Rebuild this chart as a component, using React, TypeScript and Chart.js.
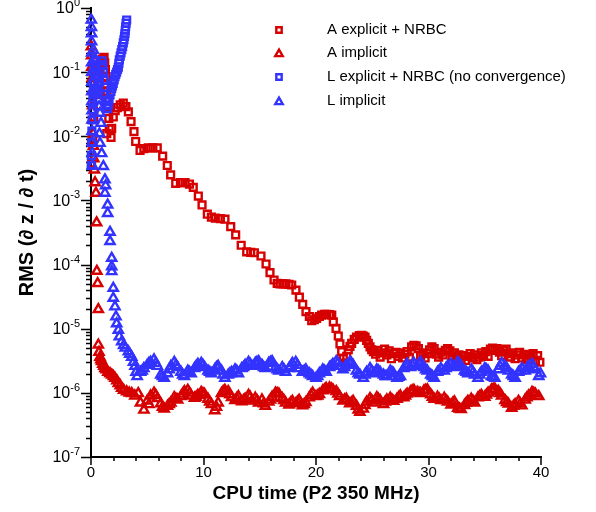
import React, { useEffect, useRef } from "react";
import { Chart, registerables } from "chart.js";

Chart.register(...registerables);

// ---------- data (x = CPU time, y = RMS) ----------
const seriesNames = [
  "A explicit + NRBC",
  "A implicit",
  "L explicit + NRBC (no convergence)",
  "L implicit",
];

const aExplicit: [number, number][] = [
  [0.05, 0.0038], [0.15, 0.009], [0.25, 0.02], [0.4, 0.045], [0.55, 0.08], [0.7, 0.11],
  [0.85, 0.14], [1.0, 0.16], [1.16, 0.17], [1.22, 0.14], [1.28, 0.11], [1.33, 0.085],
  [1.38, 0.065], [1.43, 0.05], [1.48, 0.038], [1.53, 0.028], [1.58, 0.019], [1.4, 0.011],
  [1.62, 0.013], [1.78, 0.0096], [1.84, 0.0133], [1.98, 0.02], [2.15, 0.025], [2.34, 0.028],
  [2.6, 0.031], [2.87, 0.033], [3.1, 0.029], [3.32, 0.024], [3.56, 0.0169], [3.82, 0.0118],
  [3.97, 0.0083], [4.36, 0.006], [4.7, 0.0064], [5.09, 0.0066], [5.5, 0.0066], [5.89, 0.0066],
  [6.37, 0.0049], [6.78, 0.0035], [7.08, 0.0025], [7.53, 0.00185], [7.95, 0.0019], [8.36, 0.0019],
  [8.75, 0.0018], [9.09, 0.0016], [9.54, 0.00117], [9.87, 0.00085], [10.34, 0.00061], [10.7, 0.00055],
  [11.05, 0.00053], [11.5, 0.00052], [11.91, 0.00051], [12.42, 0.00039], [12.86, 0.00029], [13.35, 0.0002],
  [13.84, 0.000158], [14.2, 0.000155], [14.52, 0.000153], [15.11, 0.000136], [15.56, 0.000102], [15.91, 0.000075],
  [16.27, 0.0000575], [16.55, 0.000051], [16.8, 0.00005], [17.06, 0.00005], [17.33, 0.00005], [17.6, 0.000049],
  [17.84, 0.000048], [18.22, 0.00004], [18.52, 0.000031], [18.82, 0.000024], [19.11, 0.0000185], [19.41, 0.0000155],
  [19.62, 0.0000133], [19.85, 0.0000138], [20.06, 0.0000145], [20.3, 0.0000155], [20.5, 0.0000163], [20.75, 0.0000167],
  [20.95, 0.0000168], [21.2, 0.0000166], [21.4, 0.0000163], [21.54, 0.0000128], [21.78, 0.0000101], [21.98, 0.0000077],
  [22.13, 0.0000058], [22.28, 0.0000044], [22.43, 0.00000345], [22.58, 0.0000029], [22.73, 0.0000037], [22.87, 0.0000047],
  [23.02, 0.0000053], [23.17, 0.0000059], [23.4, 0.0000068], [23.6, 0.0000074], [23.85, 0.0000078], [24.06, 0.0000079],
  [24.2, 0.0000077], [24.36, 0.0000074], [24.5, 0.0000066], [24.65, 0.0000059], [24.8, 0.0000052], [24.95, 0.0000047],
  [25.1, 4.4e-6], [25.3, 4.0e-6], [25.5, 4.6e-6], [25.7, 3.6e-6], [25.9, 4.2e-6], [26.1, 4.8e-6],
  [26.3, 3.9e-6], [26.5, 4.5e-6], [26.7, 3.4e-6], [26.9, 4.1e-6], [27.1, 4.3e-6], [27.3, 3.7e-6],
  [27.5, 4.2e-6], [27.7, 3.5e-6], [27.9, 4.0e-6], [28.1, 4.4e-6], [28.3, 3.6e-6], [28.5, 5.2e-6],
  [28.7, 5.5e-6], [28.9, 5.4e-6], [29.1, 4.9e-6], [29.3, 3.8e-6], [29.5, 4.2e-6], [29.7, 3.5e-6],
  [29.9, 4.1e-6], [30.1, 4.7e-6], [30.3, 5.2e-6], [30.5, 4.9e-6], [30.7, 4.0e-6], [30.9, 3.6e-6],
  [31.1, 4.3e-6], [31.3, 3.9e-6], [31.5, 4.6e-6], [31.7, 4.9e-6], [31.9, 4.5e-6], [32.1, 3.7e-6],
  [32.3, 4.2e-6], [32.5, 3.4e-6], [32.7, 3.9e-6], [32.9, 3.3e-6], [33.1, 3.8e-6], [33.3, 3.2e-6],
  [33.5, 3.7e-6], [33.7, 4.1e-6], [33.9, 3.5e-6], [34.1, 3.9e-6], [34.3, 3.3e-6], [34.5, 3.6e-6],
  [34.7, 4.2e-6], [34.9, 3.8e-6], [35.1, 4.4e-6], [35.3, 3.7e-6], [35.5, 4.8e-6], [35.7, 5.0e-6],
  [35.9, 4.6e-6], [36.1, 4.9e-6], [36.3, 4.3e-6], [36.5, 3.8e-6], [36.7, 4.5e-6], [36.9, 4.8e-6],
  [37.1, 4.1e-6], [37.3, 3.6e-6], [37.5, 4.2e-6], [37.7, 3.4e-6], [37.9, 3.9e-6], [38.1, 4.3e-6],
  [38.3, 3.5e-6], [38.5, 4.0e-6], [38.7, 3.3e-6], [38.9, 3.9e-6], [39.1, 3.6e-6], [39.3, 4.1e-6],
  [39.5, 3.2e-6], [39.7, 3.8e-6], [39.9, 3.0e-6],
];

const aImplicit: [number, number][] = [
  [0.03, 0.25], [0.05, 0.18], [0.07, 0.12], [0.1, 0.08], [0.12, 0.05], [0.15, 0.03],
  [0.18, 0.018], [0.2, 0.011], [0.22, 0.007], [0.25, 0.0045], [0.3, 0.003], [0.36, 0.0019],
  [0.44, 0.0013], [0.5, 0.00045], [0.52, 0.000079], [0.59, 0.000051], [0.65, 0.00002], [0.65, 0.0000056],
  [0.71, 0.0000043], [0.8, 0.0000036], [0.88, 0.0000033], [0.95, 0.0000031], [1.05, 0.0000028], [1.15, 0.0000026],
  [1.24, 0.0000024], [1.35, 0.0000023], [1.5, 0.0000021], [1.69, 0.000002], [1.85, 0.0000019], [2.0, 0.0000018],
  [2.13, 0.0000017], [2.3, 0.00000155], [2.43, 0.0000014], [2.6, 0.0000013], [2.73, 0.00000118], [2.9, 0.0000011],
  [3.17, 0.00000104], [3.4, 0.000001], [3.62, 0.00000098], [3.9, 0.0000009], [4.2, 0.00000098], [4.4, 0.0000007],
  [4.7, 5.4e-7], [5.0, 7.5e-7], [5.3, 9.0e-7], [5.6, 1.0e-6], [5.9, 8.2e-7], [6.2, 6.8e-7],
  [6.5, 5.6e-7], [6.8, 6.2e-7], [7.1, 7.0e-7], [7.4, 8.5e-7], [7.7, 7.8e-7], [8.0, 8.8e-7],
  [8.3, 1.05e-6], [8.6, 1.1e-6], [8.9, 9.0e-7], [9.2, 8.3e-7], [9.5, 9.2e-7], [9.8, 1.02e-6],
  [10.1, 9.5e-7], [10.4, 8.0e-7], [10.7, 6.6e-7], [11.0, 5.3e-7], [11.3, 7.0e-7], [11.6, 9.8e-7],
  [11.9, 1.1e-6], [12.2, 1.05e-6], [12.5, 8.5e-7], [12.8, 7.6e-7], [13.1, 8.8e-7], [13.4, 7.3e-7],
  [13.7, 8.0e-7], [14.0, 9.2e-7], [14.3, 7.5e-7], [14.6, 8.3e-7], [14.9, 7.0e-7], [15.2, 7.8e-7],
  [15.5, 6.2e-7], [15.8, 7.2e-7], [16.1, 8.6e-7], [16.4, 1.0e-6], [16.7, 9.6e-7], [17.0, 8.2e-7],
  [17.3, 7.0e-7], [17.6, 6.5e-7], [17.9, 7.4e-7], [18.2, 6.8e-7], [18.5, 7.7e-7], [18.8, 6.3e-7],
  [19.1, 7.1e-7], [19.4, 8.4e-7], [19.7, 1.0e-6], [20.0, 8.8e-7], [20.3, 9.5e-7], [20.6, 1.08e-6],
  [20.9, 1.18e-6], [21.2, 1.2e-6], [21.5, 1.12e-6], [21.8, 1.05e-6], [22.1, 8.8e-7], [22.4, 7.5e-7],
  [22.7, 8.0e-7], [23.0, 6.8e-7], [23.3, 7.4e-7], [23.6, 6.2e-7], [23.9, 5.0e-7], [24.2, 5.6e-7],
  [24.5, 7.2e-7], [24.8, 8.2e-7], [25.1, 7.0e-7], [25.4, 8.5e-7], [25.7, 7.6e-7], [26.0, 6.6e-7],
  [26.3, 7.8e-7], [26.6, 8.3e-7], [26.9, 7.4e-7], [27.2, 8.0e-7], [27.5, 9.0e-7], [27.8, 8.4e-7],
  [28.1, 9.6e-7], [28.4, 1.04e-6], [28.7, 1.1e-6], [29.0, 1.02e-6], [29.3, 9.8e-7], [29.6, 1.08e-6],
  [29.9, 1.12e-6], [30.2, 9.4e-7], [30.5, 8.0e-7], [30.8, 8.6e-7], [31.1, 7.6e-7], [31.4, 8.3e-7],
  [31.7, 7.2e-7], [32.0, 6.5e-7], [32.3, 7.3e-7], [32.6, 5.8e-7], [32.9, 5.5e-7], [33.2, 6.4e-7],
  [33.5, 7.4e-7], [33.8, 8.0e-7], [34.1, 7.0e-7], [34.4, 8.4e-7], [34.7, 9.2e-7], [35.0, 8.6e-7],
  [35.3, 1.0e-6], [35.6, 1.12e-6], [35.9, 1.15e-6], [36.2, 1.06e-6], [36.5, 9.0e-7], [36.8, 7.6e-7],
  [37.1, 6.7e-7], [37.4, 5.8e-7], [37.7, 6.6e-7], [38.0, 7.4e-7], [38.3, 6.3e-7], [38.6, 7.8e-7],
  [38.9, 9.0e-7], [39.2, 1.02e-6], [39.5, 9.6e-7], [39.8, 8.8e-7],
  // second pass of samples interleaved through the noisy floor
  [5.15, 6.6e-7], [5.75, 9.2e-7], [6.35, 6.0e-7], [6.95, 6.6e-7], [7.55, 8.0e-7], [8.15, 9.6e-7],
  [8.75, 1.0e-6], [9.35, 8.6e-7], [9.95, 9.8e-7], [10.55, 7.2e-7], [11.15, 6.0e-7], [11.75, 1.05e-6],
  [12.35, 9.4e-7], [12.95, 8.2e-7], [13.55, 7.6e-7], [14.15, 8.6e-7], [14.75, 7.6e-7], [15.35, 6.8e-7],
  [15.95, 7.8e-7], [16.55, 9.8e-7], [17.15, 7.6e-7], [17.75, 7.0e-7], [18.35, 7.2e-7], [18.95, 6.6e-7],
  [19.55, 9.2e-7], [20.15, 9.0e-7], [20.75, 1.12e-6], [21.35, 1.16e-6], [21.95, 9.6e-7], [22.55, 7.8e-7],
  [23.15, 7.0e-7], [23.75, 5.4e-7], [24.35, 6.4e-7], [24.95, 7.6e-7], [25.55, 8.0e-7], [26.15, 7.2e-7],
  [26.75, 7.8e-7], [27.35, 8.5e-7], [27.95, 9.0e-7], [28.55, 1.08e-6], [29.15, 1.0e-6], [29.75, 1.1e-6],
  [30.35, 8.6e-7], [30.95, 8.0e-7], [31.55, 7.6e-7], [32.15, 6.9e-7], [32.75, 5.6e-7], [33.35, 6.9e-7],
  [33.95, 7.5e-7], [34.55, 8.8e-7], [35.15, 9.3e-7], [35.75, 1.14e-6], [36.35, 9.8e-7], [36.95, 7.1e-7],
  [37.55, 6.2e-7], [38.15, 6.8e-7], [38.75, 8.4e-7], [39.35, 9.9e-7],
];

const lExplicit: [number, number][] = [
  [0.02, 0.0035], [0.03, 0.005], [0.05, 0.008], [0.08, 0.012], [0.1, 0.018], [0.13, 0.026],
  [0.17, 0.04], [0.22, 0.055], [0.27, 0.07], [0.3, 0.1], [0.35, 0.13], [0.42, 0.15],
  [0.5, 0.12], [0.55, 0.09], [0.6, 0.065], [0.68, 0.05], [0.75, 0.07], [0.82, 0.1],
  [0.9, 0.13], [0.98, 0.15], [1.05, 0.13], [1.1, 0.1], [1.15, 0.075], [1.2, 0.058],
  [1.27, 0.045], [1.35, 0.035], [1.42, 0.03], [1.48, 0.027], [1.55, 0.031], [1.6, 0.037],
  [1.69, 0.044], [1.77, 0.05], [1.84, 0.056], [1.91, 0.061], [1.98, 0.067], [2.06, 0.076],
  [2.13, 0.085], [2.2, 0.092], [2.28, 0.1], [2.36, 0.11], [2.43, 0.12], [2.48, 0.137],
  [2.52, 0.155], [2.6, 0.178], [2.67, 0.2], [2.74, 0.225], [2.81, 0.25], [2.87, 0.285],
  [2.93, 0.32], [2.98, 0.36], [3.02, 0.4], [3.05, 0.45], [3.08, 0.51], [3.12, 0.58],
  [3.17, 0.65],
];

const lImplicit: [number, number][] = [
  [0.03, 0.65], [0.04, 0.5], [0.05, 0.4], [0.05, 0.3], [0.06, 0.2], [0.06, 0.14],
  [0.07, 0.1], [0.07, 0.07], [0.08, 0.05], [0.08, 0.035], [0.09, 0.025], [0.09, 0.018],
  [0.1, 0.012], [0.1, 0.008], [0.11, 0.0055], [0.12, 0.0035], [0.2, 0.22], [0.3, 0.155],
  [0.36, 0.12], [0.42, 0.085], [0.5, 0.059], [0.58, 0.045], [0.65, 0.037], [0.72, 0.029],
  [0.8, 0.023], [0.89, 0.016], [0.75, 0.011], [0.8, 0.0078], [0.95, 0.0054], [1.1, 0.0034],
  [1.24, 0.0021], [1.3, 0.0017], [1.24, 0.0013], [1.48, 0.00085], [1.48, 0.00063], [1.69, 0.00032],
  [1.69, 0.00023], [1.84, 0.000126], [1.84, 0.000093], [1.84, 0.000078], [1.98, 0.000043], [1.98, 0.00003],
  [2.13, 0.000022], [2.22, 0.0000154], [2.28, 0.000012], [2.43, 0.0000095], [2.52, 0.0000075], [2.73, 0.0000063],
  [2.9, 0.0000055], [3.05, 0.000005], [3.32, 0.0000044], [3.45, 0.000004], [3.62, 0.0000036], [3.78, 0.000003],
  [3.91, 0.0000026], [4.0, 0.0000021],
  [4.1, 1.8e-6], [4.4, 2.1e-6], [4.7, 2.4e-6], [5.0, 2.7e-6], [5.3, 3.0e-6], [5.6, 3.3e-6],
  [5.9, 2.6e-6], [6.2, 1.9e-6], [6.5, 1.7e-6], [6.8, 2.0e-6], [7.1, 2.6e-6], [7.4, 3.0e-6],
  [7.7, 2.5e-6], [8.0, 2.1e-6], [8.3, 1.8e-6], [8.6, 2.2e-6], [8.9, 2.0e-6], [9.2, 2.4e-6],
  [9.5, 2.8e-6], [9.8, 2.9e-6], [10.1, 2.5e-6], [10.4, 2.2e-6], [10.7, 2.0e-6], [11.0, 2.3e-6],
  [11.3, 2.6e-6], [11.6, 2.2e-6], [11.9, 1.7e-6], [12.2, 1.9e-6], [12.5, 2.1e-6], [12.8, 2.3e-6],
  [13.1, 2.0e-6], [13.4, 2.4e-6], [13.7, 2.7e-6], [14.0, 3.0e-6], [14.3, 2.6e-6], [14.6, 2.9e-6],
  [14.9, 3.1e-6], [15.2, 2.7e-6], [15.5, 2.4e-6], [15.8, 2.9e-6], [16.1, 3.1e-6], [16.4, 2.5e-6],
  [16.7, 2.2e-6], [17.0, 2.5e-6], [17.3, 2.1e-6], [17.6, 2.4e-6], [17.9, 2.9e-6], [18.2, 3.0e-6],
  [18.5, 2.4e-6], [18.8, 2.1e-6], [19.1, 2.3e-6], [19.4, 2.0e-6], [19.7, 1.8e-6], [20.0, 1.7e-6],
  [20.3, 2.0e-6], [20.6, 2.3e-6], [20.9, 2.1e-6], [21.2, 2.5e-6], [21.5, 2.8e-6], [21.8, 3.1e-6],
  [22.1, 2.6e-6], [22.4, 2.3e-6], [22.7, 2.7e-6], [23.0, 3.0e-6], [23.3, 2.7e-6], [23.6, 2.2e-6],
  [23.9, 1.9e-6], [24.2, 1.7e-6], [24.5, 2.1e-6], [24.8, 2.4e-6], [25.1, 2.0e-6], [25.4, 2.3e-6],
  [25.7, 2.1e-6], [26.0, 1.9e-6], [26.3, 1.8e-6], [26.6, 2.2e-6], [26.9, 2.0e-6], [27.2, 1.7e-6],
  [27.5, 1.8e-6], [27.8, 2.4e-6], [28.1, 2.8e-6], [28.4, 2.5e-6], [28.7, 2.9e-6], [29.0, 2.6e-6],
  [29.3, 3.0e-6], [29.6, 2.5e-6], [29.9, 2.2e-6], [30.2, 1.9e-6], [30.5, 1.7e-6], [30.8, 2.1e-6],
  [31.1, 2.4e-6], [31.4, 2.2e-6], [31.7, 2.6e-6], [32.0, 2.8e-6], [32.3, 2.5e-6], [32.6, 3.0e-6],
  [32.9, 2.6e-6], [33.2, 2.2e-6], [33.5, 2.0e-6], [33.8, 2.3e-6], [34.1, 1.9e-6], [34.4, 1.7e-6],
  [34.7, 2.1e-6], [35.0, 2.4e-6], [35.3, 2.2e-6], [35.6, 1.8e-6], [35.9, 1.7e-6], [36.2, 2.3e-6],
  [36.5, 2.9e-6], [36.8, 2.6e-6], [37.1, 2.2e-6], [37.4, 1.9e-6], [37.7, 1.7e-6], [38.0, 2.1e-6],
  [38.3, 2.4e-6], [38.6, 2.2e-6], [38.9, 2.6e-6], [39.2, 2.8e-6], [39.5, 2.3e-6], [39.8, 1.8e-6],
  // second pass of samples interleaved through the noisy floor
  [4.55, 2.2e-6], [5.15, 2.9e-6], [5.75, 2.9e-6], [6.35, 1.8e-6], [6.95, 2.3e-6], [7.55, 2.7e-6],
  [8.15, 1.9e-6], [8.75, 2.1e-6], [9.35, 2.6e-6], [9.95, 2.7e-6], [10.55, 2.1e-6], [11.15, 2.5e-6],
  [11.75, 1.9e-6], [12.35, 2.0e-6], [12.95, 2.2e-6], [13.55, 2.5e-6], [14.15, 2.8e-6], [14.75, 3.0e-6],
  [15.35, 2.5e-6], [15.95, 3.0e-6], [16.55, 2.3e-6], [17.15, 2.3e-6], [17.75, 2.6e-6], [18.35, 2.7e-6],
  [18.95, 2.2e-6], [19.55, 1.9e-6], [20.15, 1.8e-6], [20.75, 2.2e-6], [21.35, 2.6e-6], [21.95, 2.9e-6],
  [22.55, 2.5e-6], [23.15, 2.9e-6], [23.75, 2.0e-6], [24.35, 1.9e-6], [24.95, 2.2e-6], [25.55, 2.2e-6],
  [26.15, 1.8e-6], [26.75, 2.1e-6], [27.35, 1.75e-6], [27.95, 2.6e-6], [28.55, 2.7e-6], [29.15, 2.8e-6],
  [29.75, 2.3e-6], [30.35, 1.8e-6], [30.95, 2.2e-6], [31.55, 2.4e-6], [32.15, 2.6e-6], [32.75, 2.8e-6],
  [33.35, 2.1e-6], [33.95, 2.1e-6], [34.55, 1.9e-6], [35.15, 2.3e-6], [35.75, 1.75e-6], [36.35, 2.6e-6],
  [36.95, 2.4e-6], [37.55, 1.8e-6], [38.15, 2.2e-6], [38.75, 2.4e-6], [39.35, 2.5e-6], [39.95, 2.0e-6],
];

// ---------- axes / ticks ----------
const X_MIN = 0;
const X_MAX = 40;
const X_MAJOR_TICKS = [0, 10, 20, 30, 40];
const X_MINOR_TICKS = [2, 4, 6, 8, 12, 14, 16, 18, 22, 24, 26, 28, 32, 34, 36, 38];
const Y_EXPONENTS = [0, -1, -2, -3, -4, -5, -6, -7];
const Y_MINOR_MANTISSAS = [2, 3, 4, 5, 6, 7, 8, 9];
const X_TITLE = "CPU time (P2 350 MHz)";
const Y_TITLE = "RMS (\u2202 z / \u2202 t)";

const RED = "#d60000";
const BLUE = "#3333ff";
const COLORS = [RED, RED, BLUE, BLUE];
const STYLES = ["rect", "triangle", "rect", "triangle"];
const RADII = [4.8, 5.3, 4.8, 5.3];
const BORDER = 2.4;
const FONT = "'Liberation Sans', Arial, sans-serif";

function drawMarker(ctx: CanvasRenderingContext2D, style: string, x: number, y: number, r: number, color: string) {
  ctx.save();
  ctx.strokeStyle = color;
  ctx.lineWidth = BORDER;
  ctx.beginPath();
  if (style === "rect") {
    const s = Math.SQRT1_2 * r;
    ctx.rect(x - s, y - s, 2 * s, 2 * s);
  } else {
    const a = (2 * Math.PI) / 3;
    ctx.moveTo(x, y - r);
    ctx.lineTo(x + Math.sin(a) * r, y - Math.cos(a) * r);
    ctx.lineTo(x + Math.sin(2 * a) * r, y - Math.cos(2 * a) * r);
    ctx.closePath();
  }
  ctx.stroke();
  ctx.restore();
}

const decorPlugin = {
  id: "decor",
  beforeDatasetsDraw(chart: any) {
    const { ctx, chartArea: a, scales } = chart;
    const xs = scales.x;
    const ys = scales.y;
    ctx.save();
    ctx.strokeStyle = "#000";
    ctx.lineWidth = 2;
    ctx.beginPath();
    ctx.moveTo(a.left, a.top - 1);
    ctx.lineTo(a.left, a.bottom);
    ctx.lineTo(a.right + 1, a.bottom);
    ctx.stroke();

    ctx.lineWidth = 1.5;
    ctx.beginPath();
    for (const v of X_MAJOR_TICKS) {
      const px = Math.round(xs.getPixelForValue(v));
      ctx.moveTo(px, a.bottom);
      ctx.lineTo(px, a.bottom + 8);
    }
    for (const v of X_MINOR_TICKS) {
      const px = Math.round(xs.getPixelForValue(v));
      ctx.moveTo(px, a.bottom);
      ctx.lineTo(px, a.bottom + 4);
    }
    for (const e of Y_EXPONENTS) {
      const py = Math.round(ys.getPixelForValue(Math.pow(10, e))) + 0.5;
      ctx.moveTo(a.left, py);
      ctx.lineTo(a.left - 10, py);
      if (e < 0) {
        for (const m of Y_MINOR_MANTISSAS) {
          const pm = Math.round(ys.getPixelForValue(m * Math.pow(10, e))) + 0.5;
          ctx.moveTo(a.left, pm);
          ctx.lineTo(a.left - 5, pm);
        }
      }
    }
    ctx.stroke();
    ctx.restore();
  },
  afterDraw(chart: any) {
    const { ctx, chartArea: a, scales } = chart;
    const xs = scales.x;
    const ys = scales.y;
    ctx.save();
    ctx.fillStyle = "#000";
    // x tick labels
    ctx.font = `15px ${FONT}`;
    ctx.textAlign = "center";
    ctx.textBaseline = "middle";
    for (const v of X_MAJOR_TICKS) {
      ctx.fillText(String(v), xs.getPixelForValue(v), a.bottom + 16);
    }
    // y tick labels 10^e
    ctx.textAlign = "left";
    const rightEdge = a.left - 11;
    for (const e of Y_EXPONENTS) {
      const py = ys.getPixelForValue(Math.pow(10, e));
      const exp = e === 0 ? "0" : `-${-e}`;
      ctx.font = `11px ${FONT}`;
      const we = ctx.measureText(exp).width;
      ctx.font = `16px ${FONT}`;
      const wb = ctx.measureText("10").width;
      ctx.fillText("10", rightEdge - we - wb, py + 1);
      ctx.font = `11px ${FONT}`;
      ctx.fillText(exp, rightEdge - we, py - 5);
    }
    // axis titles
    ctx.font = `bold 19px ${FONT}`;
    ctx.textAlign = "center";
    ctx.textBaseline = "middle";
    ctx.fillText(X_TITLE, (a.left + a.right) / 2, 494);
    ctx.save();
    ctx.translate(27, (a.top + a.bottom) / 2);
    ctx.rotate(-Math.PI / 2);
    ctx.font = `bold 20px ${FONT}`;
    ctx.fillText(Y_TITLE, 0, 0);
    ctx.restore();
    // legend
    const rows = [30, 53, 77, 101];
    ctx.font = `15px ${FONT}`;
    ctx.textAlign = "left";
    ctx.textBaseline = "middle";
    seriesNames.forEach((name, i) => {
      drawMarker(ctx, STYLES[i], 279, rows[i] + (STYLES[i] === "triangle" ? 1 : 0), RADII[i] - 1, COLORS[i]);
      ctx.fillStyle = "#000";
      ctx.fillText(name, 327, rows[i]);
    });
    ctx.restore();
  },
};

const allSeries = [aExplicit, aImplicit, lExplicit, lImplicit];

export default function App() {
  const ref = useRef<HTMLCanvasElement | null>(null);
  useEffect(() => {
    if (!ref.current) return;
    const chart = new Chart(ref.current, {
      type: "scatter",
      data: {
        datasets: allSeries.map((s, i) => ({
          label: seriesNames[i],
          data: s.map(([x, y]) => ({ x, y })),
          pointStyle: STYLES[i] as any,
          pointRadius: RADII[i],
          pointBorderWidth: BORDER,
          borderColor: COLORS[i],
          pointBorderColor: COLORS[i],
          backgroundColor: "rgba(0,0,0,0)",
          pointBackgroundColor: "rgba(0,0,0,0)",
          clip: false as any,
          order: 4 - i,
        })),
      },
      options: {
        animation: false,
        responsive: false,
        events: [],
        layout: { padding: { left: 91, right: 55, top: 8, bottom: 55 } },
        scales: {
          x: { type: "linear", min: X_MIN, max: X_MAX, display: false },
          y: { type: "logarithmic", min: 1e-7, max: 1, display: false },
        },
        plugins: { legend: { display: false }, tooltip: { enabled: false } },
      },
      plugins: [decorPlugin],
    });
    return () => chart.destroy();
  }, []);
  return (
    <div style={{ position: "fixed", left: 0, top: 0, width: 596, height: 512, background: "#fff" }}>
      <canvas ref={ref} width={596} height={512} style={{ display: "block" }} />
    </div>
  );
}
